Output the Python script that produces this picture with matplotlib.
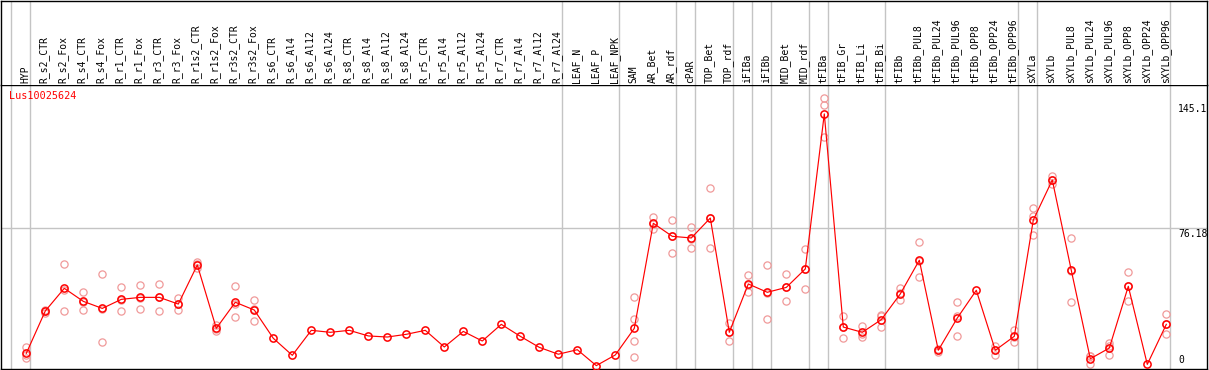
import matplotlib
matplotlib.use("Agg")
import matplotlib.pyplot as plt
import matplotlib.transforms as mtransforms

title = "Lus10025624"
categories = [
    "HYP", "R_s2_CTR", "R_s2_Fox", "R_s4_CTR", "R_s4_Fox", "R_r1_CTR", "R_r1_Fox",
    "R_r3_CTR", "R_r3_Fox", "R_r1s2_CTR", "R_r1s2_Fox", "R_r3s2_CTR", "R_r3s2_Fox",
    "R_s6_CTR", "R_s6_Al4", "R_s6_Al12", "R_s6_Al24", "R_s8_CTR", "R_s8_Al4",
    "R_s8_Al12", "R_s8_Al24", "R_r5_CTR", "R_r5_Al4", "R_r5_Al12", "R_r5_Al24",
    "R_r7_CTR", "R_r7_Al4", "R_r7_Al12", "R_r7_Al24", "LEAF_N", "LEAF_P", "LEAF_NPK",
    "SAM", "AR_Bet", "AR_rdf", "cPAR", "TOP_Bet", "TOP_rdf", "iFIBa", "iFIBb",
    "MID_Bet", "MID_rdf", "tFIBa", "tFIB_Gr", "tFIB_Li", "tFIB_Bi", "tFIBb",
    "tFIBb_PUL8", "tFIBb_PUL24", "tFIBb_PUL96", "tFIBb_OPP8", "tFIBb_OPP24",
    "tFIBb_OPP96", "sXYLa", "sXYLb", "sXYLb_PUL8", "sXYLb_PUL24", "sXYLb_PUL96",
    "sXYLb_OPP8", "sXYLb_OPP24", "sXYLb_OPP96",
]
means = [
    7.0, 30.4, 42.9, 35.7, 31.8, 36.8, 37.9, 37.9, 34.2, 55.8, 20.8, 35.2, 30.9,
    15.3, 5.9, 19.7, 18.6, 19.7, 16.6, 16.0, 17.5, 19.7, 10.5, 19.1, 13.8,
    23.0, 16.4, 10.3, 6.5, 9.0, 0.2, 6.1,
    20.8, 78.8, 71.6, 70.7, 81.7, 18.6, 45.3, 40.7, 43.4, 53.6, 139.2,
    21.5, 18.6, 25.6, 39.8, 58.4, 8.7, 26.5, 41.8, 8.7, 16.4,
    80.6, 102.7, 52.8, 4.0, 9.9, 44.0, 0.9, 23.0,
]
replicates = [
    [10.7, 6.1, 4.2], [31.0, 29.5, 30.5], [56.3, 42.0, 30.4], [40.9, 35.3, 30.9],
    [50.8, 31.5, 13.1], [43.4, 36.6, 30.4], [44.7, 37.7, 31.3], [45.3, 38.0, 30.4],
    [37.5, 34.4, 30.7], [57.2, 56.3, 53.9], [22.6, 20.3, 19.5], [44.2, 34.5, 26.9],
    [36.4, 31.6, 24.7],
    [], [], [], [], [], [], [], [], [], [], [], [], [], [], [], [], [], [], [],
    [37.9, 26.0, 13.6, 5.0], [82.3, 78.5, 75.6], [80.4, 72.0, 62.4], [76.8, 70.1, 65.2],
    [98.1, 81.8, 65.2], [23.6, 18.6, 13.6], [50.2, 45.0, 40.7], [55.8, 40.3, 26.0],
    [50.8, 43.5, 35.9], [64.6, 53.7, 42.5], [147.8, 143.9, 126.6],
    [27.6, 21.4, 15.5], [22.1, 17.5, 16.2], [28.0, 27.4, 21.4], [42.9, 40.1, 36.4],
    [68.3, 57.9, 49.0], [9.5, 8.7, 8.0], [35.2, 27.5, 16.8], [], [11.0, 8.9, 6.2],
    [19.9, 16.2, 13.1],
    [87.1, 82.8, 72.2], [104.9, 102.7, 100.5], [70.5, 52.6, 35.3], [5.5, 5.4, 1.1],
    [12.7, 10.8, 6.2], [51.7, 44.2, 36.1], [], [28.5, 23.0, 17.5],
]
group_starts = [0, 1, 29, 32, 35, 36, 38, 39, 40, 42, 43, 46, 53, 54, 61]
y_ticks = [145.1, 76.18, 0]
y_tick_labels = ["145.1", "76.18", "0"]

W, H = 1209, 370
fig = plt.figure(figsize=(W / 100, H / 100), dpi=100)
FONT = "DejaVu Sans Mono"
FS = 7

# pixel geometry
px_left, px_right = 1, 1207
px_sep, px_bottom, px_top = 85, 369, 0.5
x0_px, step_px = 26.3, 19.0
xlim = ((px_left - x0_px) / step_px, (px_right - x0_px) / step_px)
zero_px, scale = 366.0, 1.811
ylim = ((zero_px - px_bottom) / scale, (zero_px - px_sep) / scale)

ax = fig.add_axes([px_left / W, (H - px_bottom) / H, (px_right - px_left) / W,
                   (px_bottom - px_sep) / H])
axl = fig.add_axes([px_left / W, (H - px_sep) / H, (px_right - px_left) / W,
                    (px_sep - px_top) / H])
for a in (ax, axl):
    a.set_xlim(*xlim)
    a.set_xticks([])
    a.set_yticks([])
    for s in a.spines.values():
        s.set_linewidth(1.0)
        s.set_color("black")
ax.set_ylim(*ylim)
axl.set_ylim(0, 1)
axl.spines["bottom"].set_visible(False)

grey = "#c4c4c4"
for k in group_starts:
    for a in (ax, axl):
        a.axvline(k - 0.81, color=grey, lw=1.0, zorder=0.5)
ax.axhline(y_ticks[1], color=grey, lw=1.0, zorder=0.5)

# replicates
for i, reps in enumerate(replicates):
    if reps:
        ax.plot([i] * len(reps), reps, linestyle="none", marker="o", ms=5.2,
                mfc="none", mec="#f09a9a", mew=0.9, zorder=2)

# means
xs = list(range(len(categories)))
ax.plot(xs, means, color="#ff0000", lw=0.85, marker="o", ms=5.2, mfc="none",
        mec="#ff0000", mew=1.1, zorder=3)

# category labels
for i, lab in enumerate(categories):
    axl.text(i - 0.05, (px_sep - 83) / (px_sep - px_top), lab, rotation=90,
             ha="center", va="bottom", fontsize=FS, family=FONT, color="black")

# title
ax.text((9 - x0_px) / step_px, (zero_px - 91) / scale, title, color="#ff0000",
        fontsize=7.3, family=FONT, ha="left", va="top")

# y labels at right
xl = (1178 - x0_px) / step_px
for v, t in zip(y_ticks, y_tick_labels):
    if v == 0:
        ax.text(xl, v + 0.6, t, ha="left", va="bottom", fontsize=FS, family=FONT)
    else:
        ax.text(xl, v - 0.3, t, ha="left", va="top", fontsize=FS, family=FONT)

fig.savefig("out.png", dpi=100)
